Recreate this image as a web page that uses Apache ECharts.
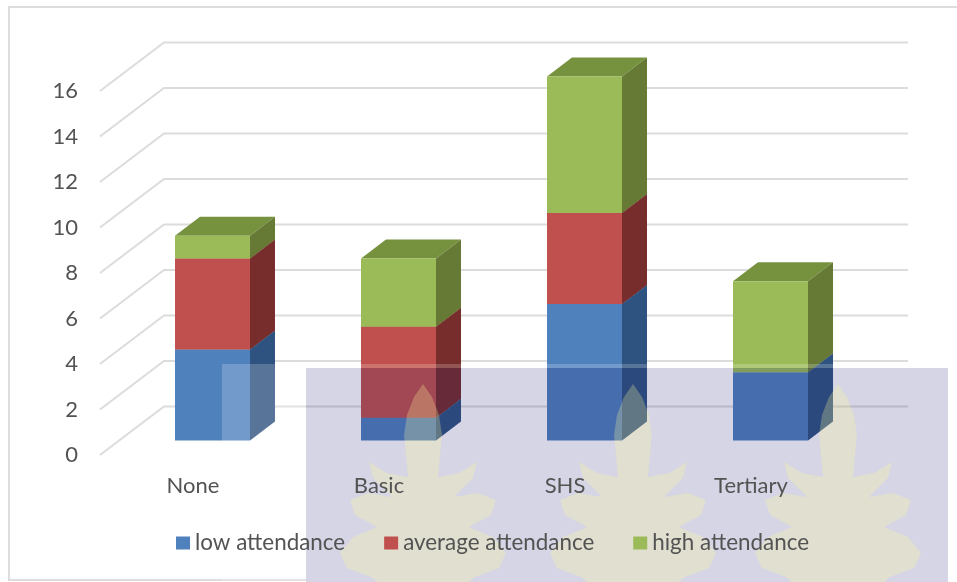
<!DOCTYPE html>
<html>
<head>
<meta charset="utf-8">
<style>html,body{margin:0;padding:0;background:#fff}#c{width:957px;height:582px}</style>
<script src="https://cdn.jsdelivr.net/npm/echarts@6/dist/echarts.min.js"></script>
</head>
<body>
<div id="c"></div>
<script>
const categories = ['None', 'Basic', 'SHS', 'Tertiary'];
const lowAttendance = [4, 1, 6, 3];
const averageAttendance = [4, 4, 4, 0];
const highAttendance = [1, 3, 6, 4];
const yTicks = [0, 2, 4, 6, 8, 10, 12, 14, 16];

const FONT = 'Lato';
const TEXT = '#535353';
const wallDx = 64, wallDy = 48.5;        // front edge of floor -> back wall
const barDx = 19.5, barDy = 14.5;        // front edge of floor -> bar front face
const depthDx = 25, depthDy = 19;        // bar depth
const barHalf = 37.5;

const palette = {
  low: {front: '#4f81bd', side: '#2f5380', top: '#3e6797'},
  avg: {front: '#c0504d', side: '#772d2b', top: '#9a3f3d'},
  high: {front: '#9bbb59', side: '#667a36', top: '#76923f'}
};

function wallItem(params, api) {
  const p = api.coord([0, api.value(0)]);
  const cs = params.coordSys;
  const x0 = cs.x, y0 = p[1];
  return {
    type: 'polyline',
    silent: true,
    shape: {points: [[x0, y0], [x0 + wallDx, y0 - wallDy], [x0 + wallDx + cs.width, y0 - wallDy]]},
    style: {stroke: '#dcdcdc', lineWidth: 2, fill: null}
  };
}

function barItem(colors) {
  return function (params, api) {
    const base = api.value(1), top = api.value(2);
    if (top <= base) return null;
    const a = api.coord([api.value(0), base]);
    const b = api.coord([api.value(0), top]);
    const l = a[0] + barDx - barHalf, r = a[0] + barDx + barHalf;
    const y0 = a[1] - barDy, y1 = b[1] - barDy;
    return {
      type: 'group',
      children: [
        {type: 'polygon', shape: {points: [[l, y1], [r, y1], [r + depthDx, y1 - depthDy], [l + depthDx, y1 - depthDy]]}, style: {fill: colors.top}},
        {type: 'polygon', shape: {points: [[r, y0], [r + depthDx, y0 - depthDy], [r + depthDx, y1 - depthDy], [r, y1]]}, style: {fill: colors.side}},
        {type: 'polygon', shape: {points: [[l, y0], [r, y0], [r, y1], [l, y1]]}, style: {fill: colors.front}}
      ]
    };
  };
}

function stacked(values, below) {
  return values.map((v, i) => {
    const base = below.reduce((s, arr) => s + arr[i], 0);
    return [i, base, base + v];
  });
}

function barSeries(name, values, below, colors) {
  return {
    name, type: 'custom', coordinateSystem: 'cartesian2d',
    renderItem: barItem(colors),
    itemStyle: {color: colors.front},
    encode: {x: 0, y: [1, 2]},
    data: stacked(values, below),
    silent: true, animation: false, z: 3
  };
}

// scanned-page watermark: palm leaf outline (half profile, mirrored)
const leafProfile = [[0,384],[9,397],[16,415],[19,435],[17,455],[15,477],[36,473],[54,462],[50,478],[31,497],[55,493],[73,500],[68,515],[46,527],[70,537],[83,553],[76,568],[52,577],[46,582]];
function leaf(cx) {
  const right = leafProfile.map(p => [cx + p[0], p[1]]);
  const left = leafProfile.slice(1).reverse().map(p => [cx - p[0], p[1]]);
  return {
    type: 'polygon', silent: true, z: 102,
    shape: {points: right.concat(left)},
    style: {fill: 'rgba(255,250,150,0.26)'}
  };
}

const chart = echarts.init(document.getElementById('c'), null, {renderer: 'canvas'});
chart.setOption({
  animation: false,
  backgroundColor: '#fff',
  color: [palette.low.front, palette.avg.front, palette.high.front],
  grid: {left: 100, top: 91, width: 744, height: 364, containLabel: false},
  legend: {
    data: ['low attendance', 'average attendance', 'high attendance'],
    left: 171, top: 527, z: 200,
    icon: 'rect', itemWidth: 14, itemHeight: 13, itemGap: 39,
    textStyle: {fontFamily: FONT, fontSize: 22.4, color: TEXT},
    selectedMode: false
  },
  xAxis: {
    type: 'category', data: categories, z: 200,
    axisLine: {show: false}, axisTick: {show: false}, splitLine: {show: false},
    axisLabel: {fontFamily: FONT, fontSize: 22, color: TEXT, margin: 20, interval: 0}
  },
  yAxis: {
    type: 'value', min: 0, max: 16, interval: 2,
    axisLine: {show: false}, axisTick: {show: false}, splitLine: {show: false},
    axisLabel: {fontFamily: FONT, fontSize: 22, color: TEXT, margin: 22}
  },
  series: [
    {type: 'custom', name: 'walls', coordinateSystem: 'cartesian2d', renderItem: wallItem,
     encode: {y: 0}, data: yTicks.map(v => [v]), silent: true, animation: false, z: 1},
    barSeries('low attendance', lowAttendance, [], palette.low),
    barSeries('average attendance', averageAttendance, [lowAttendance], palette.avg),
    barSeries('high attendance', highAttendance, [lowAttendance, averageAttendance], palette.high)
  ],
  graphic: {
    elements: [
      {type: 'polyline', silent: true, z: 100, shape: {points: [[957, 7], [9, 7], [9, 580], [306, 580]]}, style: {fill: null, stroke: '#dddddd', lineWidth: 2}},
      {type: 'rect', silent: true, z: 100, shape: {x: 222, y: 364, width: 84, height: 218}, style: {fill: 'rgba(255,255,255,0.2)'}},
      {type: 'rect', silent: true, z: 100, shape: {x: 306, y: 364, width: 642, height: 4}, style: {fill: 'rgba(255,255,255,0.2)'}},
      {type: 'rect', silent: true, z: 101, shape: {x: 306, y: 368, width: 642, height: 214}, style: {fill: 'rgba(34,34,115,0.19)'}},
      leaf(423), leaf(633), leaf(838)
    ]
  }
});
</script>
</body>
</html>
